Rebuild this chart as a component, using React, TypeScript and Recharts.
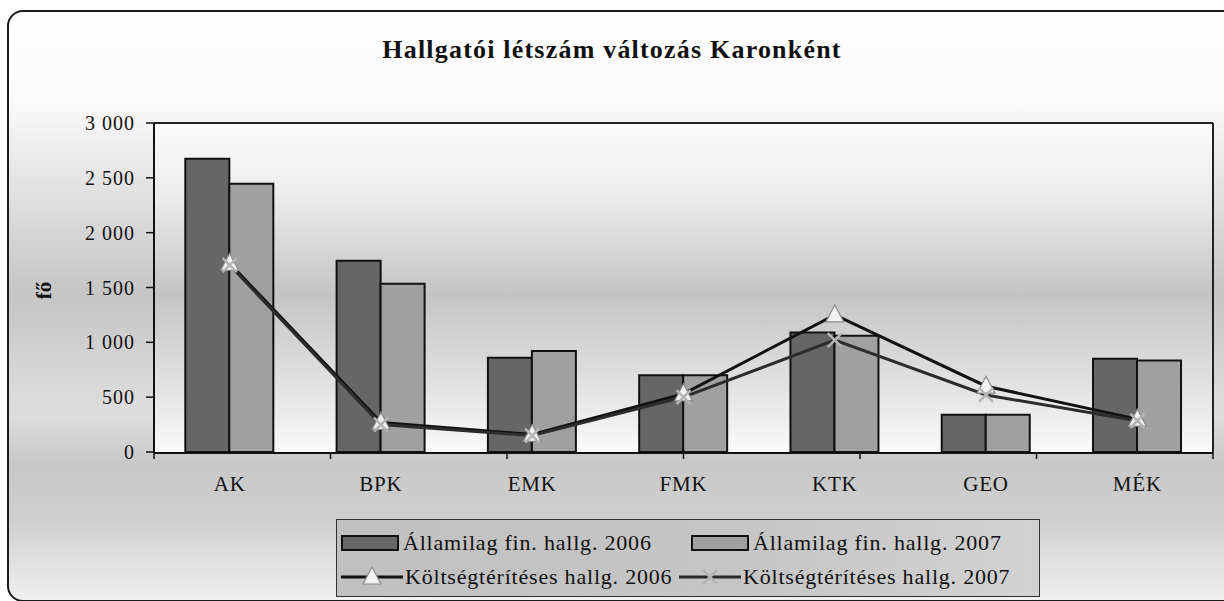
import React from 'react';
import { ComposedChart, Bar, Line, XAxis, YAxis, CartesianGrid, Legend } from 'recharts';

document.body.style.margin = '0';

const karok = ['AK', 'BPK', 'EMK', 'FMK', 'KTK', 'GEO', 'MÉK'];
const allami2006 = [2675, 1745, 860, 700, 1090, 340, 850];
const allami2007 = [2445, 1535, 920, 700, 1060, 340, 835];
const koltseg2006 = [1720, 270, 160, 530, 1250, 600, 300];
const koltseg2007 = [1705, 250, 150, 500, 1020, 520, 285];
const yTicks = [0, 500, 1000, 1500, 2000, 2500, 3000];
const boundTicks = [0, 1, 2, 3, 4, 5, 6, 7];

const SERIES = {
  a06: 'Államilag fin. hallg. 2006',
  a07: 'Államilag fin. hallg. 2007',
  k06: 'Költségtérítéses hallg. 2006',
  k07: 'Költségtérítéses hallg. 2007',
};

const data = karok.map((name, i) => ({
  name,
  a06: allami2006[i],
  a07: allami2007[i],
  k06: koltseg2006[i],
  k07: koltseg2007[i],
}));

const FONT = '"Liberation Serif", "DejaVu Serif", serif';

const fmt = (v: number) => (v >= 1000 ? `${Math.floor(v / 1000)} ${String(v % 1000).padStart(3, '0')}` : String(v));

// triangle marker for the 2006 line
const Triangle = ({ cx, cy }: { cx: number; cy: number }) => (
  <path
    d={`M${cx},${cy - 10} L${cx + 9},${cy + 7} L${cx - 9},${cy + 7} Z`}
    fill="#f2f2f2"
    stroke="#8a8a8a"
    strokeWidth={1.2}
  />
);

// x marker for the 2007 line
const Cross = ({ cx, cy }: { cx: number; cy: number }) => (
  <g stroke="#b4b4b4" strokeWidth={2.5}>
    <line x1={cx - 7} y1={cy - 7} x2={cx + 7} y2={cy + 7} />
    <line x1={cx - 7} y1={cy + 7} x2={cx + 7} y2={cy - 7} />
  </g>
);

const triDot = (p: any) => <Triangle key={`t-${p.index}`} cx={p.cx} cy={p.cy} />;
const crossDot = (p: any) => <Cross key={`x-${p.index}`} cx={p.cx} cy={p.cy} />;

const BarSwatch = ({ fill }: { fill: string }) => (
  <svg width={58} height={18} style={{ marginRight: 4 }}>
    <rect x={1} y={2} width={56} height={14} fill={fill} stroke="#111" strokeWidth={2} />
  </svg>
);

const LineSwatch = ({ cross }: { cross?: boolean }) => (
  <svg width={62} height={20} style={{ marginRight: 2 }}>
    <line x1={0} y1={10} x2={62} y2={10} stroke={cross ? '#2a2a2a' : '#111'} strokeWidth={3} />
    {cross ? <Cross cx={31} cy={10} /> : <Triangle cx={31} cy={10} />}
  </svg>
);

const LegendBox = () => (
  <div
    style={{
      width: 704,
      height: 78,
      border: '1.5px solid #333',
      background: 'linear-gradient(90deg, #c0c0c0 0%, #c6c6c6 60%, #d2d2d2 100%)',
      fontFamily: FONT,
      fontSize: 22,
      letterSpacing: 0.8,
      color: '#111',
      display: 'grid',
      gridTemplateColumns: '350px 354px',
      gridTemplateRows: '34px 34px',
      alignItems: 'center',
      paddingLeft: 4,
      paddingTop: 6,
      boxSizing: 'border-box',
      whiteSpace: 'nowrap',
    }}
  >
    <div style={{ display: 'flex', alignItems: 'center' }}>
      <BarSwatch fill="#666666" />
      {SERIES.a06}
    </div>
    <div style={{ display: 'flex', alignItems: 'center' }}>
      <BarSwatch fill="#a0a0a0" />
      {SERIES.a07}
    </div>
    <div style={{ display: 'flex', alignItems: 'center' }}>
      <LineSwatch />
      {SERIES.k06}
    </div>
    <div style={{ display: 'flex', alignItems: 'center', marginLeft: -12 }}>
      <LineSwatch cross />
      {SERIES.k07}
    </div>
  </div>
);

export default function App() {
  return (
    <div style={{ position: 'relative', width: 1224, height: 601, overflow: 'hidden', background: '#fff' }}>
      {/* card */}
      <div
        style={{
          position: 'absolute',
          left: 7,
          top: 10,
          width: 1230,
          height: 588,
          border: '2px solid #1a1a1a',
          borderRadius: 16,
          background:
            'linear-gradient(180deg, #ffffff 0%, #fafafa 15%, #c5c5c5 48%, #dedede 68%, #c8c8c8 77%, #d0d0d0 87%, #f0f0f0 100%)',
        }}
      />
      <div
        style={{
          position: 'absolute',
          left: 0,
          width: 1224,
          top: 35,
          textAlign: 'center',
          fontFamily: FONT,
          fontWeight: 'bold',
          fontSize: 26,
          letterSpacing: 1.2,
          color: '#111',
        }}
      >
        Hallgatói létszám változás Karonként
      </div>
      <div
        style={{
          position: 'absolute',
          left: 32,
          top: 278,
          width: 24,
          textAlign: 'center',
          transform: 'rotate(-90deg)',
          fontFamily: FONT,
          fontWeight: 'bold',
          fontSize: 21,
          color: '#111',
        }}
      >
        fő
      </div>
      <div style={{ position: 'absolute', left: 0, top: 0 }}>
        <ComposedChart
          width={1224}
          height={601}
          data={data}
          margin={{ top: 122, right: 10, bottom: 118, left: 84 }}
          barCategoryGap="20.7%"
          barGap={0}
        >
          <defs>
            <linearGradient id="plotBg" x1="0" y1="0" x2="0" y2="1">
              <stop offset="0%" stopColor="#fbfbfb" />
              <stop offset="22%" stopColor="#ececec" />
              <stop offset="52%" stopColor="#c4c4c4" />
              <stop offset="80%" stopColor="#e2e2e2" />
              <stop offset="100%" stopColor="#fafafa" />
            </linearGradient>
          </defs>
          <CartesianGrid xAxisId="cat" horizontal={false} vertical={false} fill="url(#plotBg)" />
          {/* tick marks between categories, sits right on the axis line */}
          <XAxis
            xAxisId={0}
            type="number"
            domain={[0, 7]}
            ticks={boundTicks}
            tickFormatter={() => ''}
            tickSize={7}
            tickLine={{ stroke: '#111', strokeWidth: 1.5 }}
            axisLine={false}
            height={1}
          />
          <XAxis
            xAxisId="cat"
            dataKey="name"
            tickLine={false}
            axisLine={{ stroke: '#111', strokeWidth: 2 }}
            height={30}
            tick={{ fontFamily: FONT, fontSize: 21, fill: '#111', letterSpacing: 0.8 }}
            tickSize={6}
            tickMargin={17}
            interval={0}
          />
          <XAxis xAxisId="top" orientation="top" dataKey="name" tick={false} tickLine={false} height={1} axisLine={{ stroke: '#222', strokeWidth: 2 }} />
          <YAxis
            domain={[0, 3000]}
            ticks={yTicks}
            tickFormatter={fmt}
            width={70}
            tickSize={8}
            tickMargin={11}
            tickLine={{ stroke: '#111', strokeWidth: 1.5 }}
            axisLine={{ stroke: '#111', strokeWidth: 2 }}
            tick={{ fontFamily: FONT, fontSize: 20, fill: '#111', letterSpacing: 1 }}
          />
          <YAxis yAxisId="right" orientation="right" domain={[0, 3000]} tick={false} tickLine={false} width={1} axisLine={{ stroke: '#222', strokeWidth: 2 }} />
          <Bar xAxisId="cat" dataKey="a06" name={SERIES.a06} fill="#666666" stroke="#111" strokeWidth={2} isAnimationActive={false} />
          <Bar xAxisId="cat" dataKey="a07" name={SERIES.a07} fill="#a0a0a0" stroke="#111" strokeWidth={2} isAnimationActive={false} />
          <Line xAxisId="cat" dataKey="k06" name={SERIES.k06} stroke="#111" strokeWidth={3} dot={triDot} activeDot={false} isAnimationActive={false} />
          <Line xAxisId="cat" dataKey="k07" name={SERIES.k07} stroke="#2c2c2c" strokeWidth={3} dot={crossDot} activeDot={false} isAnimationActive={false} />
          <Legend
            layout="horizontal"
            verticalAlign="middle"
            align="center"
            content={() => <LegendBox />}
            wrapperStyle={{ left: 336, top: 519, width: 704, height: 78 }}
          />
        </ComposedChart>
      </div>
    </div>
  );
}
